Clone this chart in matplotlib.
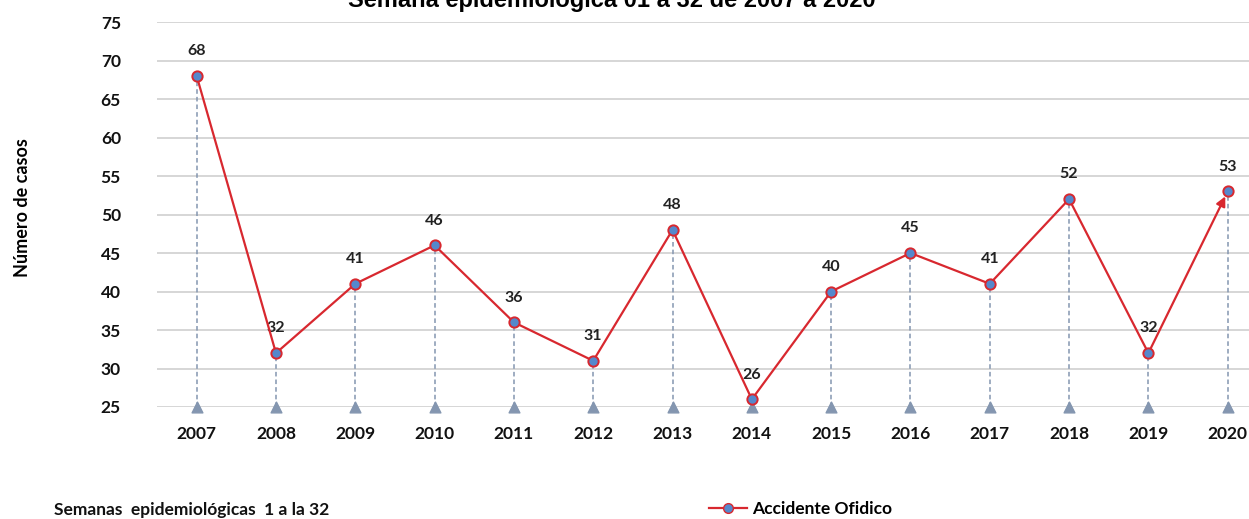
import matplotlib
matplotlib.use("Agg")
import matplotlib.pyplot as plt
from matplotlib.lines import Line2D

plt.rcParams['font.family'] = ['Lato', 'DejaVu Sans']

years = ['2007', '2008', '2009', '2010', '2011', '2012', '2013',
         '2014', '2015', '2016', '2017', '2018', '2019', '2020']
casos = [68, 32, 41, 46, 36, 31, 48, 26, 40, 45, 41, 52, 32, 53]
y_ticks = [25, 30, 35, 40, 45, 50, 55, 60, 65, 70, 75]

red = '#d8282f'
blue = '#5588cc'
slate = '#8496b0'

fig = plt.figure(figsize=(12.49, 5.19), dpi=100)
ax = fig.add_axes([0.1257, 0.2158, 0.889, 0.7418])

x = list(range(len(years)))

# drop lines and base triangles
ax.vlines(x, 25, casos, colors=slate, linestyles=(0, (3, 2)), linewidth=1.1, zorder=2)
ax.scatter(x, [25] * len(x), marker='^', s=60, color=slate, zorder=3, clip_on=False)

# main line, last segment drawn as arrow
ax.plot(x[:-1], casos[:-1], color=red, linewidth=1.6, zorder=4)
ax.annotate('', xy=(x[-1], casos[-1]), xytext=(x[-2], casos[-2]),
            arrowprops=dict(arrowstyle='-|>', color=red, lw=1.6,
                            mutation_scale=14, shrinkA=0, shrinkB=4),
            zorder=4)
ax.scatter(x, casos, s=55, color=blue, edgecolors=red, linewidths=1.4, zorder=5)

for xi, v in zip(x, casos):
    ax.text(xi, v + 2.3, str(v), ha='center', va='bottom', fontsize=11.5,
            fontweight='bold', color='#222222')

ax.set_xlim(-0.5, 13.5)
ax.set_ylim(25, 75)
ax.set_yticks(y_ticks)
ax.set_xticks(x)
ax.set_xticklabels(years)
ax.yaxis.grid(True, color='#d0d0d0', linewidth=1.2)
ax.set_axisbelow(True)
for s in ax.spines.values():
    s.set_visible(False)
ax.tick_params(axis='both', length=0, labelsize=12.5, labelcolor='#111111')
ax.tick_params(axis='x', pad=14)
ax.tick_params(axis='y', pad=26)
for lab in ax.get_xticklabels() + ax.get_yticklabels():
    lab.set_fontweight('bold')

fig.text(0.018, 0.60, 'Número de casos', rotation=90, ha='center', va='center',
         fontsize=13, fontweight='bold')

# title is cut at the top of the image, as in the source
fig.text(0.49, 1.0, 'Semana epidemiológica 01 a 32 de 2007 a 2020', ha='center',
         va='center', fontsize=17, fontweight='bold', family='Liberation Sans')

fig.text(0.043, 0.018, 'Semanas  epidemiológicas  1 a la 32', ha='left', va='center',
         fontsize=12.5, fontweight='bold', color='#111111')

handle = Line2D([], [], color=red, linewidth=1.6, marker='o', markersize=7,
                markerfacecolor=blue, markeredgecolor=red)
fig.legend([handle], ['Accidente Ofidico'], loc='center left',
           bbox_to_anchor=(0.555, 0.02), frameon=False, prop={'size': 12.5, 'weight': 'bold'},
           handlelength=2.2, handletextpad=0.3)

fig.savefig('out.png', dpi=100)
